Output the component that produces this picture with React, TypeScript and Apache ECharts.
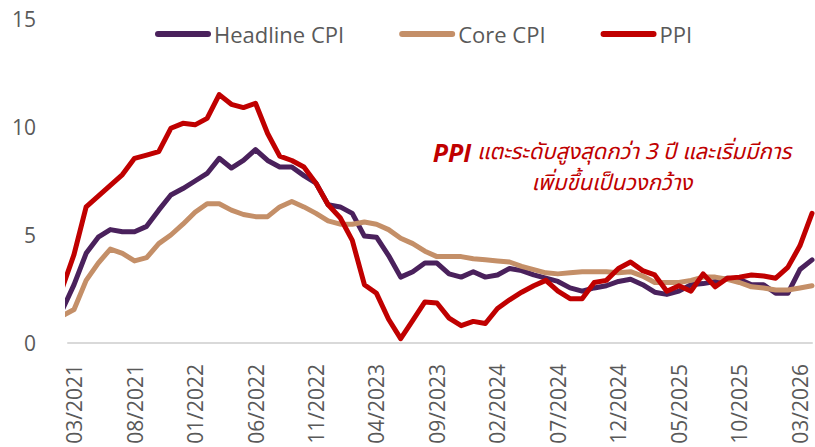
import React, { useEffect, useRef } from "react";
import * as echarts from "echarts";

// Months from 02/2021 to 04/2026 (index -1 = 02/2021, 0 = 03/2021)
const months: string[] = [
  "02/2021", "03/2021", "04/2021", "05/2021", "06/2021", "07/2021", "08/2021", "09/2021", "10/2021", "11/2021", "12/2021",
  "01/2022", "02/2022", "03/2022", "04/2022", "05/2022", "06/2022", "07/2022", "08/2022", "09/2022", "10/2022", "11/2022", "12/2022",
  "01/2023", "02/2023", "03/2023", "04/2023", "05/2023", "06/2023", "07/2023", "08/2023", "09/2023", "10/2023", "11/2023", "12/2023",
  "01/2024", "02/2024", "03/2024", "04/2024", "05/2024", "06/2024", "07/2024", "08/2024", "09/2024", "10/2024", "11/2024", "12/2024",
  "01/2025", "02/2025", "03/2025", "04/2025", "05/2025", "06/2025", "07/2025", "08/2025", "09/2025", "10/2025", "11/2025", "12/2025",
  "01/2026", "02/2026", "03/2026", "04/2026",
];

const tickLabels: string[] = [
  "03/2021", "08/2021", "01/2022", "06/2022", "11/2022", "04/2023", "09/2023",
  "02/2024", "07/2024", "12/2024", "05/2025", "10/2025", "03/2026",
];

const headlineCPI: number[] = [
  1.5, 2.7, 4.15, 4.9, 5.25, 5.15, 5.15, 5.4, 6.15, 6.85, 7.15,
  7.5, 7.85, 8.55, 8.1, 8.45, 8.95, 8.45, 8.15, 8.15, 7.75, 7.4, 6.4,
  6.3, 6.0, 4.95, 4.9, 4.05, 3.05, 3.3, 3.7, 3.7, 3.2, 3.05, 3.3,
  3.05, 3.15, 3.45, 3.35, 3.15, 3.0, 2.85, 2.55, 2.4, 2.55, 2.65, 2.85,
  2.95, 2.7, 2.35, 2.25, 2.4, 2.7, 2.75, 2.85, 3.0, 2.95, 2.7, 2.7,
  2.3, 2.3, 3.4, 3.85,
];

const coreCPI: number[] = [
  1.25, 1.55, 2.9, 3.7, 4.35, 4.15, 3.8, 3.95, 4.6, 5.0, 5.5,
  6.05, 6.45, 6.45, 6.15, 5.95, 5.85, 5.85, 6.3, 6.55, 6.3, 6.0, 5.65,
  5.5, 5.5, 5.6, 5.5, 5.25, 4.85, 4.6, 4.25, 4.0, 4.0, 4.0, 3.9,
  3.85, 3.8, 3.75, 3.55, 3.4, 3.25, 3.2, 3.25, 3.3, 3.3, 3.3, 3.25,
  3.3, 3.1, 2.8, 2.8, 2.8, 2.9, 3.05, 3.05, 2.95, 2.8, 2.6, 2.55,
  2.45, 2.45, 2.55, 2.65,
];

const ppi: number[] = [
  2.5, 4.1, 6.3, 6.8, 7.3, 7.8, 8.55, 8.7, 8.86, 9.94, 10.17,
  10.1, 10.4, 11.5, 11.05, 10.9, 11.1, 9.7, 8.65, 8.45, 8.15, 7.4, 6.4,
  5.8, 4.75, 2.7, 2.3, 1.1, 0.2, 1.05, 1.9, 1.85, 1.15, 0.8, 1.0,
  0.9, 1.6, 2.0, 2.35, 2.65, 2.9, 2.4, 2.05, 2.05, 2.8, 2.9, 3.45,
  3.75, 3.35, 3.15, 2.4, 2.65, 2.4, 3.2, 2.6, 3.0, 3.05, 3.15, 3.1,
  3.0, 3.5, 4.5, 6.0,
];

const seriesNames = ["Headline CPI", "Core CPI", "PPI"];
const seriesColors = ["#4a215c", "#c48f68", "#c00000"];

const FONT = "'Open Sans', 'Noto Sans', sans-serif";
const THAI_FONT = "'Noto Sans Thai', 'Noto Sans', 'DejaVu Sans', sans-serif";
const LEGEND_ICON = "path://M3,0 L53,0 A3,3 0 0 1 53,6 L3,6 A3,3 0 0 1 3,0 Z";

export default function App() {
  const ref = useRef<HTMLDivElement>(null);

  useEffect(() => {
    document.body.style.margin = "0";
    if (!ref.current) return;
    const chart = echarts.init(ref.current, undefined, { renderer: "svg" });
    const toPairs = (arr: number[]) => arr.map((v, i) => [i - 1, v]);
    const tickIdx = tickLabels.map((t) => months.indexOf(t) - 1);
    const allSeries = [headlineCPI, coreCPI, ppi];

    chart.setOption({
      animation: false,
      backgroundColor: "#ffffff",
      grid: { left: 68, right: 3, top: 19, bottom: 104, containLabel: false },
      legend: {
        data: seriesNames.map((n) => ({ name: n, icon: LEGEND_ICON })),
        top: 18,
        left: 150,
        itemWidth: 56,
        itemHeight: 6,
        itemGap: 55,
        textStyle: { fontFamily: FONT, fontSize: 22, color: "#595959", padding: [0, 0, 0, -2] },
      },
      xAxis: {
        type: "value",
        min: -0.5,
        max: 61,
        splitLine: { show: false },
        axisTick: { show: false },
        axisLine: { show: true, lineStyle: { color: "#d9d9d9", width: 2 } },
        axisLabel: {
          customValues: tickIdx,
          rotate: 90,
          margin: 21,
          fontFamily: FONT,
          fontSize: 21,
          color: "#595959",
          formatter: (v: number) => months[Math.round(v) + 1] || "",
        },
      },
      yAxis: {
        type: "value",
        min: 0,
        max: 15,
        interval: 5,
        splitLine: { show: false },
        axisLine: { show: false },
        axisTick: { show: false },
        axisLabel: { margin: 32, fontFamily: FONT, fontSize: 21, color: "#595959" },
      },
      series: allSeries.map((arr, k) => ({
        name: seriesNames[k],
        type: "line",
        data: toPairs(arr),
        symbol: "none",
        showSymbol: false,
        clip: true,
        color: seriesColors[k],
        lineStyle: { width: 5, color: seriesColors[k], cap: "round", join: "round" },
        z: 2 + k,
      })),
      graphic: [
        {
          type: "text",
          x: 612,
          y: 152,
          style: {
            text: "{b|PPI} แตะระดับสูงสุดกว่า 3 ปี และเริ่มมีการ",
            fill: "#c00000",
            fontFamily: THAI_FONT,
            fontSize: 22,
            fontStyle: "italic",
            align: "center",
            verticalAlign: "middle",
            rich: {
              b: {
                fill: "#c00000",
                fontFamily: FONT,
                fontSize: 25,
                fontWeight: "bold",
                fontStyle: "italic",
              },
            },
          },
        },
        {
          type: "text",
          x: 612,
          y: 183,
          style: {
            text: "เพิ่มขึ้นเป็นวงกว้าง",
            fill: "#c00000",
            fontFamily: THAI_FONT,
            fontSize: 22,
            fontStyle: "italic",
            align: "center",
            verticalAlign: "middle",
          },
        },
      ],
    });

    return () => chart.dispose();
  }, []);

  return <div ref={ref} style={{ width: 815, height: 447 }} />;
}
